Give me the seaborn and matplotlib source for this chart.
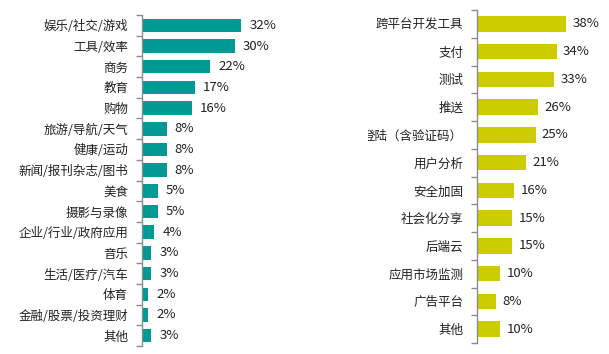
import matplotlib
matplotlib.use("Agg")
import matplotlib.pyplot as plt
import seaborn as sns
from matplotlib.transforms import Bbox, IdentityTransform, TransformedBbox

left_cats = ["娱乐/社交/游戏", "工具/效率", "商务", "教育", "购物", "旅游/导航/天气",
             "健康/运动", "新闻/报刊杂志/图书", "美食", "摄影与录像", "企业/行业/政府应用",
             "音乐", "生活/医疗/汽车", "体育", "金融/股票/投资理财", "其他"]
left_vals = [32, 30, 22, 17, 16, 8, 8, 8, 5, 5, 4, 3, 3, 2, 2, 3]

right_cats = ["跨平台开发工具", "支付", "测试", "推送", "登陆（含验证码）", "用户分析",
              "安全加固", "社会化分享", "后端云", "应用市场监测", "广告平台", "其他"]
right_vals = [38, 34, 33, 26, 25, 21, 16, 15, 15, 10, 8, 10]

TEAL = "#009994"
OLIVE = "#CCCC00"
TEXT = "#222222"
SPINE = "#8c8c8c"

sns.set_theme(style="white")
plt.rcParams["font.family"] = ["Noto Sans CJK SC", "DejaVu Sans"]

W, H = 609, 354
fig = plt.figure(figsize=(W / 100, H / 100), dpi=100)


def panel(rect, cats, vals, color, xmax, bar_w):
    ax = fig.add_axes(rect)
    sns.barplot(x=vals, y=cats, ax=ax, color=color, orient="h", width=bar_w,
                saturation=1, edgecolor="none")
    n = len(cats)
    ax.set_xlim(0, xmax)
    ax.set_ylim(n - 0.5, -0.5)
    for s in ["top", "right", "bottom"]:
        ax.spines[s].set_visible(False)
    ax.spines["left"].set_color(SPINE)
    ax.spines["left"].set_linewidth(1)
    ax.set_xticks([])
    ax.set_xlabel("")
    ax.set_ylabel("")
    # small ticks between the categories
    ax.set_yticks([i - 0.5 for i in range(n + 1)], minor=True)
    ax.tick_params(axis="y", which="minor", length=4, width=1, color=SPINE, left=True)
    ax.tick_params(axis="y", which="major", length=0, pad=10, labelsize=9,
                   labelcolor=TEXT)
    for i, v in enumerate(vals):
        ax.text(v + xmax * 0.05, i, f"{v}%", va="center", ha="left",
                fontsize=9.5, color=TEXT)
    return ax


axl = panel([142 / W, 8 / H, 160 / W, 331 / H], left_cats, left_vals, TEAL,
            160 / 3.1, 0.65)
axr = panel([477 / W, 11 / H, 125 / W, 333 / H], right_cats, right_vals, OLIVE,
            125 / 2.34, 0.55)

# the long label on the right is cut off in the original
clip = TransformedBbox(Bbox([[368, 0], [W, H]]), IdentityTransform())
for lab in axr.get_yticklabels():
    lab.set_clip_on(True)
    lab.set_clip_box(clip)

fig.savefig("out.png", dpi=100)
